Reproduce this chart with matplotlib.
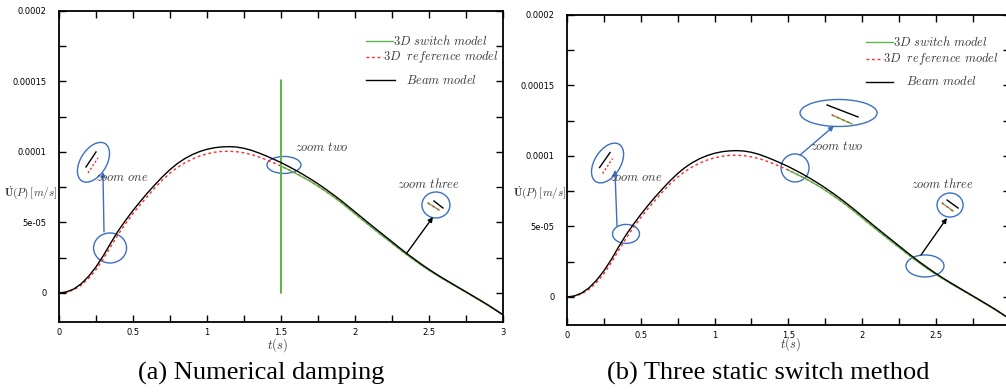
import matplotlib
matplotlib.use('Agg')
import matplotlib.pyplot as plt
import numpy as np
from matplotlib.patches import Ellipse
from matplotlib.transforms import ScaledTranslation

plt.rcParams['mathtext.fontset'] = 'cm'

# ---------------------------------------------------------------------------
# Data (velocity values in units of 1e-5 m/s, every 0.05 s)
# ---------------------------------------------------------------------------
t_grid = [0.00, 0.05, 0.10, 0.15, 0.20, 0.25, 0.30, 0.35, 0.40, 0.45, 0.50,
          0.55, 0.60, 0.65, 0.70, 0.75, 0.80, 0.85, 0.90, 0.95, 1.00,
          1.05, 1.10, 1.15, 1.20, 1.25, 1.30, 1.35, 1.40, 1.45, 1.50,
          1.55, 1.60, 1.65, 1.70, 1.75, 1.80, 1.85, 1.90, 1.95, 2.00,
          2.05, 2.10, 2.15, 2.20, 2.25, 2.30, 2.35, 2.40, 2.45, 2.50,
          2.55, 2.60, 2.65, 2.70, 2.75, 2.80, 2.85, 2.90, 2.95, 3.00]
beam = [0.00, 0.07, 0.28, 0.65, 1.18, 1.85, 2.65, 3.55, 4.40, 5.15, 5.85,
        6.50, 7.12, 7.70, 8.25, 8.75, 9.18, 9.53, 9.81, 10.03, 10.19,
        10.30, 10.36, 10.38, 10.35, 10.26, 10.12, 9.93, 9.72, 9.49, 9.25,
        8.98, 8.70, 8.40, 8.08, 7.74, 7.38, 7.00, 6.60, 6.18, 5.75,
        5.32, 4.89, 4.47, 4.05, 3.63, 3.21, 2.80, 2.41, 2.03, 1.67,
        1.33, 1.01, 0.70, 0.39, 0.08, -0.23, -0.54, -0.86, -1.20, -1.55]
reference = [0.00, 0.05, 0.22, 0.55, 1.03, 1.65, 2.42, 3.30, 4.15, 4.92, 5.63,
             6.28, 6.88, 7.48, 8.02, 8.50, 8.90, 9.23, 9.50, 9.71, 9.87,
             9.98, 10.04, 10.05, 10.02, 9.94, 9.82, 9.65, 9.45, 9.23, 9.00,
             8.75, 8.49, 8.21, 7.91, 7.58, 7.23, 6.86, 6.47, 6.05, 5.62,
             5.19, 4.77, 4.35, 3.94, 3.53, 3.12, 2.72, 2.34, 1.97, 1.62,
             1.29, 0.97, 0.66, 0.36, 0.06, -0.25, -0.56, -0.88, -1.22, -1.56]

# 3D switch model, only exists after the switch at t = 1.5 s
switch_t = [1.50, 1.55, 1.60, 1.65, 1.70, 1.75, 1.80, 1.85, 1.90, 1.95, 2.00,
            2.05, 2.10, 2.15, 2.20, 2.25, 2.30, 2.35, 2.40, 2.45, 2.50,
            2.55, 2.60, 2.65, 2.70, 2.75, 2.80, 2.85, 2.90, 2.95, 3.00]
switch_v = [9.00, 8.74, 8.48, 8.20, 7.90, 7.57, 7.22, 6.85, 6.46, 6.04, 5.61,
            5.18, 4.76, 4.34, 3.93, 3.52, 3.11, 2.71, 2.33, 1.96, 1.61,
            1.28, 0.96, 0.65, 0.35, 0.05, -0.26, -0.57, -0.89, -1.22, -1.56]
# numerical damping run: oscillation right at the switch instant
jump_v = [15.1, 0.0, 10.85, 6.95, 10.5, 7.4]

xticks = [0, 0.5, 1, 1.5, 2, 2.5, 3]
xticklabels = ['0', '0.5', '1', '1.5', '2', '2.5', '3']
yticks = [0, 5e-5, 1e-4, 1.5e-4, 2e-4]
yticklabels = ['0', '5e-05', '0.0001', '0.00015', '0.0002']

labels = [r'$3D\ switch\ model$', r'$3D\ \ reference\ model$', r'$Beam\ model$']
captions = ['(a) Numerical damping', '(b) Three static switch method']

GREEN = '#5cb648'
RED = '#ff2a2a'
BLUE = '#3c6fc2'
GREY = '#3a3a3a'
W, H = 1006, 392


def px(x, y):
    """image pixel -> figure fraction"""
    return x / W, 1 - y / H


def anchor(ax, t, v):
    # inch offsets around a data point
    return ax.figure.dpi_scale_trans + ScaledTranslation(t, v * 1e-5, ax.transData)


def bubble(ax, t, v, w, h, angle=0):
    ax.add_patch(Ellipse((0, 0), w / 100, h / 100, angle=angle, fill=False,
                         ec=BLUE, lw=1.0, transform=anchor(ax, t, v), clip_on=False))


def mini(ax, t, v, seg, **kw):
    (x0, y0), (x1, y1) = seg
    ax.plot([x0 / 100, x1 / 100], [y0 / 100, y1 / 100], transform=anchor(ax, t, v),
            clip_on=False, **kw)


def arrow(ax, start, end, color):
    ax.annotate('', xy=(end[0], end[1] * 1e-5), xytext=(start[0], start[1] * 1e-5),
                arrowprops=dict(arrowstyle='-|>', color=color, lw=1.0,
                                mutation_scale=7, shrinkA=0, shrinkB=0))


def note(ax, t, v, s):
    ax.text(t, v * 1e-5, s, ha='center', va='center', fontsize=9, color=GREY)


def key(ax, y_rows, x_line, x_text):
    styles = [dict(color=GREEN, lw=1.0), dict(color=RED, lw=1.0, ls=(0, (2, 2))),
              dict(color='black', lw=1.0)]
    for lab, yr, (xa, xb), xt, st in zip(labels, y_rows, x_line, x_text, styles):
        ax.plot([xa, xb], [yr, yr], transform=ax.transAxes, clip_on=False, **st)
        ax.text(xt, yr, lab, transform=ax.transAxes, ha='left', va='center',
                fontsize=9, color=GREY)


def setup(ax, ybottom, xlabels):
    ax.set_xlim(0, 3)
    ax.set_ylim(ybottom, 2e-4)
    ax.set_xticks(xticks)
    ax.set_xticklabels(xlabels)
    ax.set_yticks(yticks)
    ax.set_yticklabels(yticklabels)
    ax.set_xticks([0.25, 0.75, 1.25, 1.75, 2.25, 2.75], minor=True)
    ax.set_yticks([2.5e-5, 7.5e-5, 1.25e-4, 1.75e-4], minor=True)
    ax.tick_params(which='both', direction='in', top=True, right=True, length=5,
                   width=1.0, labelsize=6, colors='black')
    ax.tick_params(axis='y', pad=9)
    ax.tick_params(axis='x', pad=4)
    for s in ax.spines.values():
        s.set_linewidth(1.3)


fig = plt.figure(figsize=(W / 100, H / 100), dpi=100)
ax_a = fig.add_axes([59 / W, (H - 322) / H, 444 / W, 311 / H])
ax_b = fig.add_axes([567 / W, (H - 325) / H, 442.5 / W, 310 / H])

t = np.array(t_grid)
beam_v = np.array(beam) * 1e-5
ref_v = np.array(reference) * 1e-5
sw_t = np.array(switch_t)
sw_v = np.array(switch_v) * 1e-5

# panel (a): the switched solution rings at t = 1.5 before settling
sw_a_t = np.concatenate([[switch_t[0]] * (len(jump_v) + 1), sw_t])
sw_a_v = np.concatenate([[switch_v[0] * 1e-5], np.array(jump_v) * 1e-5, sw_v])

for ax, st, sv in ((ax_a, sw_a_t, sw_a_v), (ax_b, sw_t, sw_v)):
    ax.plot(t, ref_v, color=RED, lw=1.0, ls=(0, (2, 2)))
    ax.plot(st, sv, color=GREEN, lw=1.0)
    ax.plot(t, beam_v, color='black', lw=1.0)

setup(ax_a, -2.06e-5, xticklabels)
# the right panel is cropped at the figure edge, so its last label is not shown
setup(ax_b, -1.99e-5, xticklabels[:-1] + [''])

# --- panel (a) annotations ---
bubble(ax_a, 0.233, 9.27, 44, 26, 58)
mini(ax_a, 0.233, 9.27, ((-7.5, -4.7), (2.5, 10.3)), color='black', lw=1.0)
mini(ax_a, 0.233, 9.27, ((-5.5, -10.7), (4.5, 4.3)), color=RED, lw=1.0, ls=(0, (1.5, 1.5)))
arrow(ax_a, (0.304, 4.33), (0.297, 8.58), BLUE)
bubble(ax_a, 0.345, 3.19, 33, 30)
note(ax_a, 0.426, 8.16, r'$zoom\ one$')
bubble(ax_a, 1.52, 9.08, 34, 17)
note(ax_a, 1.777, 10.35, r'$zoom\ two$')
bubble(ax_a, 2.547, 6.24, 28, 26)
mini(ax_a, 2.547, 6.24, ((-2, 4), (7, -3)), color='black', lw=1.0)
mini(ax_a, 2.547, 6.24, ((-8, 2), (3, -5)), color=GREEN, lw=1.0)
mini(ax_a, 2.547, 6.24, ((-8, 2), (3, -5)), color=RED, lw=1.0, ls=(0, (1.5, 2.5)))
arrow(ax_a, (2.351, 2.84), (2.527, 5.39), 'black')
note(ax_a, 2.5, 7.73, r'$zoom\ three$')

# --- panel (b) annotations ---
bubble(ax_b, 0.275, 9.50, 44, 26, 58)
mini(ax_b, 0.275, 9.50, ((-8, -4.5), (2.5, 10.5)), color='black', lw=1.0)
mini(ax_b, 0.275, 9.50, ((-5, -10.5), (5, 4.5)), color=RED, lw=1.0, ls=(0, (1.5, 1.5)))
arrow(ax_b, (0.339, 5.04), (0.325, 9.01), BLUE)
bubble(ax_b, 0.4, 4.47, 27, 19)
note(ax_b, 0.468, 8.44, r'$zoom\ one$')
bubble(ax_b, 1.546, 9.15, 28, 28)
arrow(ax_b, (1.58, 10.07), (1.81, 12.13), BLUE)
bubble(ax_b, 1.841, 13.05, 77, 27)
mini(ax_b, 1.841, 13.05, ((-11.5, 8), (19.5, -4)), color='black', lw=1.0)
mini(ax_b, 1.841, 13.05, ((-6.5, -2), (13.5, -11)), color=GREEN, lw=1.0)
mini(ax_b, 1.841, 13.05, ((-6.5, -2), (13.5, -11)), color=RED, lw=1.0, ls=(0, (1.5, 2.5)))
note(ax_b, 1.83, 10.64, r'$zoom\ two$')
bubble(ax_b, 2.427, 2.2, 38, 22)
arrow(ax_b, (2.4, 2.98), (2.576, 5.6), 'black')
bubble(ax_b, 2.597, 6.52, 26, 24)
mini(ax_b, 2.597, 6.52, ((-3, 5), (8, -3)), color='black', lw=1.0)
mini(ax_b, 2.597, 6.52, ((-8, 2), (3, -6)), color=GREEN, lw=1.0)
mini(ax_b, 2.597, 6.52, ((-8, 2), (3, -6)), color=RED, lw=1.0, ls=(0, (1.5, 2.5)))
note(ax_b, 2.549, 8.01, r'$zoom\ three$')

# legends drawn by hand (text overlaps the sample line like in the source)
key(ax_a, [0.9035, 0.852, 0.778], [(0.691, 0.752), (0.691, 0.730), (0.691, 0.757)],
    [0.752, 0.730, 0.782])
key(ax_b, [0.913, 0.858, 0.784], [(0.676, 0.737), (0.676, 0.714), (0.676, 0.737)],
    [0.737, 0.714, 0.766])

# axis labels
ylab = r'$\dot{\mathbf{U}}(P)\,[m/s]$'
fig.text(*px(4, 193), ylab, ha='left', va='center', fontsize=8, color=GREY)
fig.text(*px(513, 193), ylab, ha='left', va='center', fontsize=8, color=GREY)
fig.text(*px(277, 345), r'$t(s)$', ha='center', va='center', fontsize=9, color=GREY)
fig.text(*px(790, 344), r'$t(s)$', ha='center', va='center', fontsize=9, color=GREY)

fig.text(*px(261, 373), captions[0], ha='center', va='center', fontsize=19,
         family='Liberation Serif')
fig.text(*px(768, 373), captions[1], ha='center', va='center', fontsize=19,
         family='Liberation Serif')

fig.savefig('out.png', dpi=100)
